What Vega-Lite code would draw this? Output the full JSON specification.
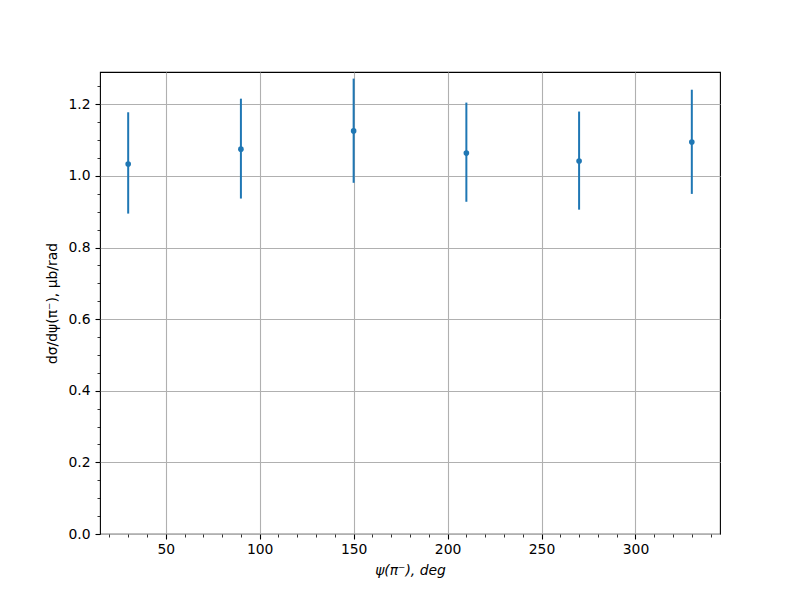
{
  "$schema": "https://vega.github.io/schema/vega-lite/v6.json",
  "width": 620,
  "height": 462,
  "autosize": {"type": "none"},
  "padding": {"left": 100, "top": 72, "right": 80, "bottom": 66},
  "background": "white",
  "config": {
    "font": "DejaVu Sans",
    "view": {"stroke": "black", "strokeWidth": 1.1},
    "axis": {
      "labelFont": "DejaVu Sans",
      "titleFont": "DejaVu Sans",
      "labelFontSize": 13.9,
      "titleFontSize": 13.9,
      "titleFontWeight": "normal",
      "labelColor": "black",
      "titleColor": "black",
      "tickColor": "black",
      "domain": false,
      "gridColor": "#b0b0b0",
      "gridWidth": 1.1,
      "gridOpacity": 1
    }
  },
  "data": {
    "values": [
      {"psi": 30, "val": 1.0335, "lo": 0.895, "hi": 1.178},
      {"psi": 90, "val": 1.075, "lo": 0.937, "hi": 1.216},
      {"psi": 150, "val": 1.126, "lo": 0.981, "hi": 1.272},
      {"psi": 210, "val": 1.064, "lo": 0.928, "hi": 1.205},
      {"psi": 270, "val": 1.042, "lo": 0.906, "hi": 1.180},
      {"psi": 330, "val": 1.095, "lo": 0.950, "hi": 1.241}
    ]
  },
  "resolve": {"axis": {"x": "independent", "y": "independent"}},
  "layer": [
    {
      "mark": {"type": "rule", "color": "#1f77b4", "strokeWidth": 2},
      "encoding": {
        "x": {
          "field": "psi", "type": "quantitative",
          "scale": {"domain": [15, 345], "nice": false, "zero": false},
          "axis": {
            "orient": "bottom",
            "values": [50, 100, 150, 200, 250, 300],
            "grid": true,
            "tickSize": 5,
            "tickWidth": 1.1,
            "labelPadding": 3,
            "title": "ψ(π⁻), deg",
            "titleFontStyle": "italic",
            "titlePadding": 8
          }
        },
        "y": {
          "field": "lo", "type": "quantitative",
          "scale": {"domain": [0, 1.2905], "nice": false},
          "axis": {
            "orient": "left",
            "values": [0, 0.2, 0.4, 0.6, 0.8, 1.0, 1.2],
            "format": ".1f",
            "grid": true,
            "tickSize": 5,
            "tickWidth": 1.1,
            "labelPadding": 5,
            "title": "dσ/dψ(π⁻), μb/rad",
            "titlePadding": 8
          }
        },
        "y2": {"field": "hi"}
      }
    },
    {
      "mark": {"type": "point", "filled": true, "color": "#1f77b4", "size": 32, "opacity": 1},
      "encoding": {
        "x": {
          "field": "psi", "type": "quantitative",
          "axis": {
            "orient": "bottom",
            "values": [20, 30, 40, 60, 70, 80, 90, 110, 120, 130, 140, 160, 170, 180, 190, 210, 220, 230, 240, 260, 270, 280, 290, 310, 320, 330, 340],
            "labels": false,
            "grid": false,
            "tickSize": 3,
            "tickWidth": 0.8,
            "title": null
          }
        },
        "y": {
          "field": "val", "type": "quantitative",
          "axis": {
            "orient": "left",
            "values": [0.05, 0.1, 0.15, 0.25, 0.3, 0.35, 0.45, 0.5, 0.55, 0.65, 0.7, 0.75, 0.85, 0.9, 0.95, 1.05, 1.1, 1.15, 1.25],
            "labels": false,
            "grid": false,
            "tickSize": 3,
            "tickWidth": 0.8,
            "title": null
          }
        }
      }
    }
  ]
}
